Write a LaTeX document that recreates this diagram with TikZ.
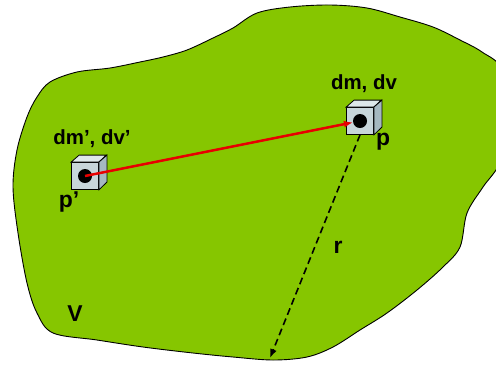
\documentclass[tikz,border=0pt]{standalone}
\usepackage{fontspec}
\setmainfont{Liberation Sans}
\usetikzlibrary{arrows.meta}
\definecolor{blobgreen}{RGB}{134,198,0}
\definecolor{cubefront}{RGB}{200,214,218}
\definecolor{cubetop}{RGB}{222,232,234}
\definecolor{cubeside}{RGB}{165,184,192}
\definecolor{linkred}{RGB}{232,0,0}
\begin{document}
\begin{tikzpicture}[x=1bp, y=-1bp, every node/.style={font=\bfseries\fontsize{20.5}{24}\selectfont}]
	\tikzstyle{cube}=[draw,fill=cubefront,minimum size=27bp,inner sep=0pt,line width=0.8bp]
	\tikzstyle{dot}=[circle,fill=black,minimum size=14bp,inner sep=0pt]
	\tikzstyle{face}=[draw,line width=0.8bp]
	\tikzstyle{letter}=[font=\bfseries\fontsize{23}{27}\selectfont]

	\useasboundingbox (0,0) rectangle (496,365);

	% the volume V
	\begin{scope}
	\clip (0,0) rectangle (496,365);
	\draw [fill=blobgreen,line width=0.9bp] plot [smooth cycle, tension=0.55] coordinates {
		(50,82) (77,72) (110,68) (140,62) (163,57) (187,50) (213,38) (233,28)
		(257,13) (290,7) (330,5) (367,8) (400,17) (433,27) (460,40) (482,52)
		(502,70) (506,120) (500,162) (483,187) (467,213) (460,247) (443,267)
		(417,290) (387,313) (360,330) (333,347) (307,357) (273,360) (233,357)
		(193,353) (143,347) (97,340) (53,333) (37,313) (27,283) (18,233)
		(13,187) (17,150) (27,117) (37,97)};
	\end{scope}

	\node [letter] (vol) at (75,314) {V};

	% point p
	\node [cube] (cube2) at (360,121) {};
	\coordinate (rend) at (270,358);
	\draw [dashed,dash pattern=on 7bp off 4bp,line width=1.6bp,-{Latex[length=9bp,width=7bp]}] (cube2.south) -- (rend); % r
	\node [cube] (cube2) at (360,121) {};
	\draw [face,fill=cubetop] (cube2.north west) -- ++(8,-7) -- ++(27,0) -- (cube2.north east) -- cycle;
	\draw [face,fill=cubeside] (cube2.north east) -- ++(8,-7) -- ++(0,27) -- (cube2.south east) -- cycle;
	\node [dot] (dot2) at (cube2) {};
	\node (lbl2) at (364,84) {dm, dv};
	\node [letter] (pp2) at (383,142) {p};
	\node [letter] (dist) at (338,247) {r};

	% point p'
	\node [cube] (cube1) at (85,176) {};
	\draw [face,fill=cubetop] (cube1.north west) -- ++(8,-7) -- ++(27,0) -- (cube1.north east) -- cycle;
	\draw [face,fill=cubeside] (cube1.north east) -- ++(8,-7) -- ++(0,27) -- (cube1.south east) -- cycle;
	\node [dot] (dot1) at (cube1) {};
	\node (lbl1) at (92,139) {dm’, dv’};
	\node [letter] (pp1) at (69,202) {p’};

	\draw [linkred,line width=2.5bp,-{Latex[length=9bp,width=7bp]}] (dot1.center) -- (dot2); % p' -> p

\end{tikzpicture}
\end{document}
